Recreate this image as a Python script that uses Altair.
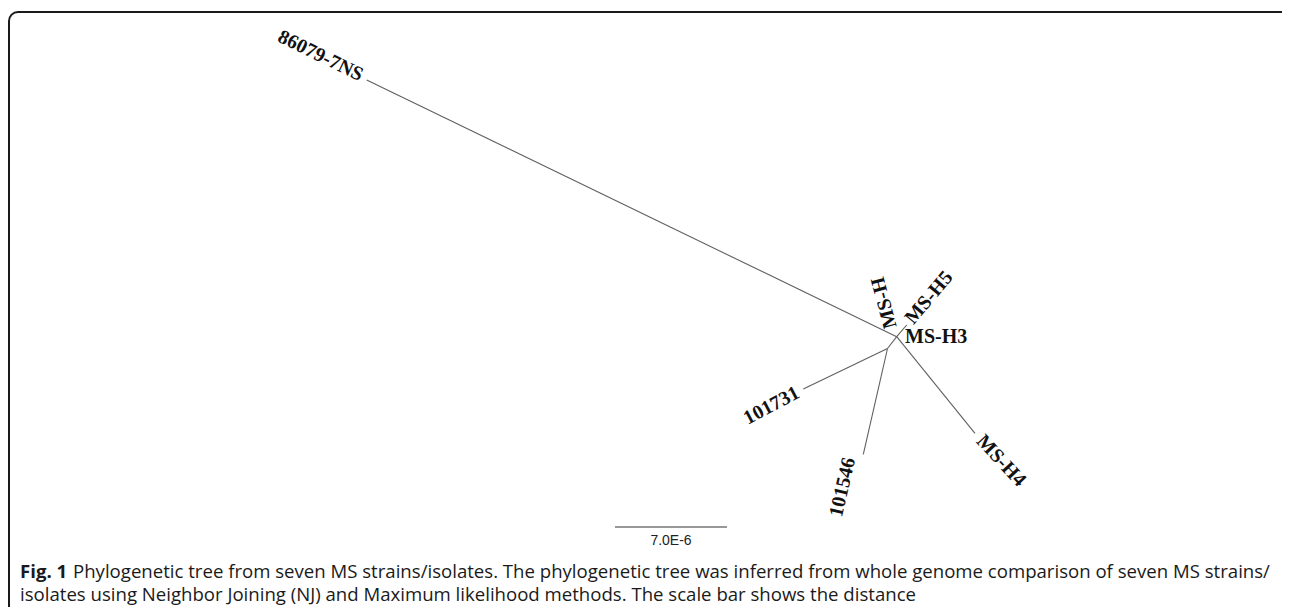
import altair as alt
import pandas as pd

# ---- tree layout (layout units, origin top-left of plot area) ----
edge_x = [358.7, 888.7, 888.7, 879.5, 879.5, 888.7]
edge_y = [72.0, 328.7, 328.7, 340.5, 340.5, 328.7]
edge_x2 = [888.7, 898.7, 879.5, 795.3, 855.3, 967.0]
edge_y2 = [328.7, 317.0, 340.5, 381.0, 446.3, 425.3]

# ---- leaf labels ----
leaf_names = ["86079-7NS", "MS-H", "MS-H5", "MS-H3", "101731", "101546", "MS-H4"]
leaf_x = [354.0, 883.0, 901.0, 897.0, 790.0, 841.5, 972.0]
leaf_y = [68.0, 320.0, 313.5, 329.0, 383.5, 450.0, 430.0]
leaf_angle = [26, 255, 310, 0, 332, 283, 47]
leaf_side = ["right", "left", "left", "left", "right", "right", "left"]

# ---- scale bar ----
scale_x = [607.0]
scale_x2 = [719.0]
scale_y = [519.0]
scale_label = ["7.0E-6"]
scale_label_x = [663.0]
scale_label_y = [533.0]

# ---- frame ----
frame_x = [1.0]
frame_x2 = [1292.0]
frame_y = [4.0]
frame_y2 = [642.0]

# ---- caption ----
caption_bold = "Fig. 1"
caption_line1 = ("Phylogenetic tree from seven MS strains/isolates. The phylogenetic tree was "
                 "inferred from whole genome comparison of seven MS strains/")
caption_line2 = ("isolates using Neighbor Joining (NJ) and Maximum likelihood methods. "
                 "The scale bar shows the distance")
caption_x = [12.0, 65.0, 12.0]
caption_y = [570.0, 570.0, 593.0]

W, H = 1274, 599
xs = alt.Scale(domain=[0, W], nice=False, zero=False)
ys = alt.Scale(domain=[0, H], nice=False, zero=False, reverse=True)


def X(f):
    return alt.X(f, type="quantitative", scale=xs, axis=None)


def Y(f):
    return alt.Y(f, type="quantitative", scale=ys, axis=None)


edges = pd.DataFrame({"x": edge_x, "y": edge_y, "x2": edge_x2, "y2": edge_y2})
leaves = pd.DataFrame({"name": leaf_names, "x": leaf_x, "y": leaf_y,
                       "angle": leaf_angle, "side": leaf_side})
sbar = pd.DataFrame({"x": scale_x, "x2": scale_x2, "y": scale_y})
slab = pd.DataFrame({"t": scale_label, "x": scale_label_x, "y": scale_label_y})
frame = pd.DataFrame({"x": frame_x, "x2": frame_x2, "y": frame_y, "y2": frame_y2})
cap = pd.DataFrame({"t": [caption_bold, caption_line1, caption_line2],
                    "x": caption_x, "y": caption_y, "w": ["bold", "normal", "normal"]})

frame_layer = alt.Chart(frame).mark_rect(
    fillOpacity=0, stroke="#1a1a1a", strokeWidth=2, cornerRadius=9
).encode(x=X("x"), x2="x2", y=Y("y"), y2="y2")

edge_layer = alt.Chart(edges).mark_rule(color="#606060", strokeWidth=1.1).encode(
    x=X("x"), y=Y("y"), x2="x2", y2="y2")


def leaf_layer(side):
    return alt.Chart(leaves).transform_filter(alt.datum.side == side).mark_text(
        font="Liberation Serif", fontWeight="bold", fontSize=20, color="#111111",
        align=side, baseline="middle"
    ).encode(x=X("x"), y=Y("y"), text="name:N",
             angle=alt.Angle("angle:Q", scale=None))


bar_layer = alt.Chart(sbar).mark_rule(color="#333333", strokeWidth=1.2).encode(
    x=X("x"), x2="x2", y=Y("y"))

bar_text = alt.Chart(slab).mark_text(
    font="Liberation Sans", fontSize=14, color="#222222", align="center", baseline="middle"
).encode(x=X("x"), y=Y("y"), text="t:N")

cap_bold = alt.Chart(cap).transform_filter(alt.datum.w == "bold").mark_text(
    font="Open Sans", fontWeight="bold", fontSize=18.6, color="#1a1a1a",
    align="left", baseline="alphabetic"
).encode(x=X("x"), y=Y("y"), text="t:N")

cap_norm = alt.Chart(cap).transform_filter(alt.datum.w == "normal").mark_text(
    font="Open Sans", fontSize=18.6, color="#1a1a1a", align="left", baseline="alphabetic"
).encode(x=X("x"), y=Y("y"), text="t:N")

chart = alt.layer(
    frame_layer, edge_layer, leaf_layer("left"), leaf_layer("right"),
    bar_layer, bar_text, cap_bold, cap_norm
).properties(
    width=W, height=H, padding=0, autosize=alt.AutoSizeParams(type="none")
).configure_view(stroke=None)

chart.save("out.html", embed_options={"renderer": "svg", "actions": False})
